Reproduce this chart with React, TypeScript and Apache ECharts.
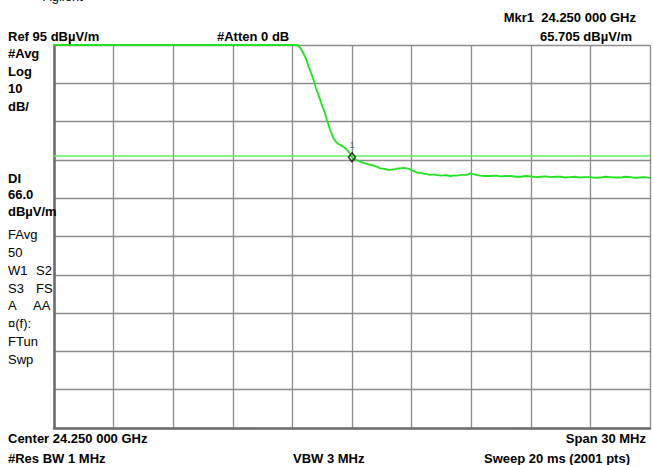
import React, { useEffect, useRef } from "react";
import * as echarts from "echarts";

// Frequency offset from center (MHz) and trace level (dBµV/m)
const freqOffsetMHz = [
  -15, -12, -9, -6, -4, -2.75, -2.6, -2.44, -2.3, -2.2, -2.05, -1.94, -1.8, -1.7, -1.6, -1.5,
  -1.4, -1.26, -1.1, -0.93, -0.8, -0.7, -0.55, -0.43, -0.3, -0.2, -0.1, 0, 0.1, 0.2, 0.3,
  0.41, 0.55, 0.65, 0.8, 0.92, 1.05, 1.2, 1.3, 1.42, 1.55, 1.7, 1.8, 1.92, 2.05, 2.2, 2.3,
  2.43, 2.6, 2.76, 2.9, 3.0, 3.15, 3.27, 3.45, 3.6, 3.75, 3.94, 4.1, 4.3, 4.5, 4.7, 4.95,
  5.1, 5.3, 5.5, 5.79, 5.95, 6.1, 6.3, 6.46, 6.7, 7.0, 7.25, 7.5, 7.75, 8.0, 8.25, 8.5, 8.75,
  9.0, 9.25, 9.5, 9.75, 10.0, 10.25, 10.5, 10.75, 11.0, 11.25, 11.5, 11.75, 12.0, 12.25,
  12.5, 12.75, 13.0, 13.25, 13.5, 13.75, 14.0, 14.25, 14.5, 14.75, 15.0,
];
const traceLevel = [
  95, 95, 95, 95, 95, 95, 94.2, 92.8, 91.2, 89.5, 87.6, 85.9, 83.5, 82.1, 80.6, 79.1,
  77.8, 75.4, 72.8, 70.6, 69.7, 69.2, 68.8, 68.4, 67.9, 67.3, 66.6, 65.7, 65.3, 65.0, 64.8,
  64.5, 64.3, 64.1, 63.9, 63.7, 63.6, 63.3, 63.1, 62.8, 62.7, 62.6, 62.4, 62.4, 62.5, 62.6, 62.8,
  62.8, 62.9, 62.8, 62.6, 62.3, 62.0, 61.7, 61.6, 61.4, 61.3, 61.1, 61.2, 61.0, 60.9, 61.0, 60.8,
  60.9, 60.9, 61.1, 61.1, 61.5, 61.3, 61.0, 60.9, 60.8, 60.8, 60.9, 60.7, 60.8, 60.8, 60.6, 60.6, 60.8,
  60.7, 60.5, 60.6, 60.7, 60.5, 60.6, 60.6, 60.4, 60.5, 60.6, 60.4, 60.5, 60.5, 60.3, 60.4,
  60.6, 60.5, 60.4, 60.4, 60.6, 60.5, 60.3, 60.4, 60.5, 60.3, 60.4,
];

const markerOffsetMHz = 0;
const markerLevel = 65.705;
const displayLine = 66.0;

const headerTexts = ["Ref 95 dBµV/m", "#Atten 0 dB", "Mkr1  24.250 000 GHz", "65.705 dBµV/m"];
const footerTexts = ["Center 24.250 000 GHz", "Span 30 MHz", "#Res BW 1 MHz", "VBW 3 MHz", "Sweep 20 ms (2001 pts)"];

const FONT = "'Liberation Sans', Arial, sans-serif";

function txt(text: string, x: number, y: number, bold = true, align = "left", extra: any = {}) {
  return {
    type: "text",
    x,
    y,
    z: 10,
    style: {
      text,
      x: 0,
      y: 0,
      fill: extra.fill || "#000",
      font: `${bold ? "bold " : ""}${extra.size || 13}px ${FONT}`,
      align,
      verticalAlign: extra.va || "middle",
    },
  };
}

export default function App() {
  const ref = useRef<HTMLDivElement>(null);
  useEffect(() => {
    if (!ref.current) return;
    const chart = echarts.init(ref.current, null, { renderer: "svg" });
    const data = freqOffsetMHz.map((f, i) => [f, traceLevel[i]]);
    const option: any = {
      animation: false,
      backgroundColor: "#fff",
      grid: { left: 54, top: 45, width: 596, height: 383, show: false },
      xAxis: {
        type: "value",
        min: -15,
        max: 15,
        interval: 3,
        axisLine: { show: true, onZero: false, lineStyle: { color: "#6e6e6e", width: 2.5 } },
        axisTick: { show: false },
        axisLabel: { show: false },
        splitLine: { show: true, lineStyle: { color: "#8c8c8c", width: 1.3 } },
      },
      yAxis: [
        {
          type: "value",
          min: -5,
          max: 95,
          position: "right",
          axisLine: { show: false },
          axisTick: { show: false },
          axisLabel: { show: false },
          splitLine: { show: false },
        },
        {
          type: "value",
          min: 0,
          max: 100,
          interval: 10,
          position: "left",
          offset: 0,
          axisLine: { show: true, onZero: false, lineStyle: { color: "#6a6a6a", width: 2.5 } },
          axisTick: { show: false },
          axisLabel: { show: false },
          splitLine: { show: true, lineStyle: { color: "#8c8c8c", width: 1.3 } },
        },
      ],
      series: [
        {
          type: "line",
          yAxisIndex: 0,
          data,
          symbol: "none",
          clip: true,
          lineStyle: { color: "#1fe41f", width: 1.8 },
          z: 5,
          markLine: {
            silent: true,
            symbol: "none",
            label: { show: false },
            lineStyle: { color: "#5ef05e", width: 1.5, type: "solid" },
            data: [{ yAxis: displayLine }],
          },
        },
        {
          type: "scatter",
          yAxisIndex: 0,
          data: [[markerOffsetMHz, markerLevel]],
          symbol: "diamond",
          symbolSize: [7, 9],
          itemStyle: { color: "rgba(255,255,255,0)", borderColor: "#111", borderWidth: 1.5 },
          label: {
            show: true,
            formatter: "1",
            position: "top",
            distance: 2,
            fontSize: 9,
            color: "#3a4560",
            fontFamily: FONT,
          },
          z: 6,
        },
      ],
      graphic: [
        txt("Agilent", 43, 2.5, false, "left", { va: "bottom", size: 13 }),
        txt("‹‹‹", 18, 2.5, false, "left", { va: "bottom", size: 13, fill: "#2030ff" }),
        txt(headerTexts[0], 8, 36),
        txt(headerTexts[1], 217, 36),
        txt(headerTexts[2], 636, 17, true, "right"),
        txt(headerTexts[3], 632, 36, true, "right"),
        txt("#Avg", 8, 53),
        txt("Log", 8, 71),
        txt("10", 8, 88),
        txt("dB/", 8, 106),
        txt("DI", 8, 178),
        txt("66.0", 8, 194),
        txt("dBµV/m", 8, 211),
        txt("FAvg", 8, 234, false),
        txt("50", 8, 252, false),
        txt("W1", 8, 270, false),
        txt("S2", 36, 270, false),
        txt("S3", 8, 288, false),
        txt("FS", 36, 288, false),
        txt("A", 8, 305, false),
        txt("AA", 33, 305, false),
        txt("¤(f):", 8, 323, false),
        txt("FTun", 8, 341, false),
        txt("Swp", 8, 359, false),
        txt(footerTexts[0], 8, 438),
        txt(footerTexts[1], 646, 438, true, "right"),
        txt(footerTexts[2], 8, 458),
        txt(footerTexts[3], 293, 458),
        txt(footerTexts[4], 630, 458, true, "right"),
      ],
    };
    chart.setOption(option);
    return () => chart.dispose();
  }, []);
  return (
    <div
      ref={ref}
      style={{ position: "absolute", left: 0, top: 0, width: 653, height: 465 }}
    />
  );
}
